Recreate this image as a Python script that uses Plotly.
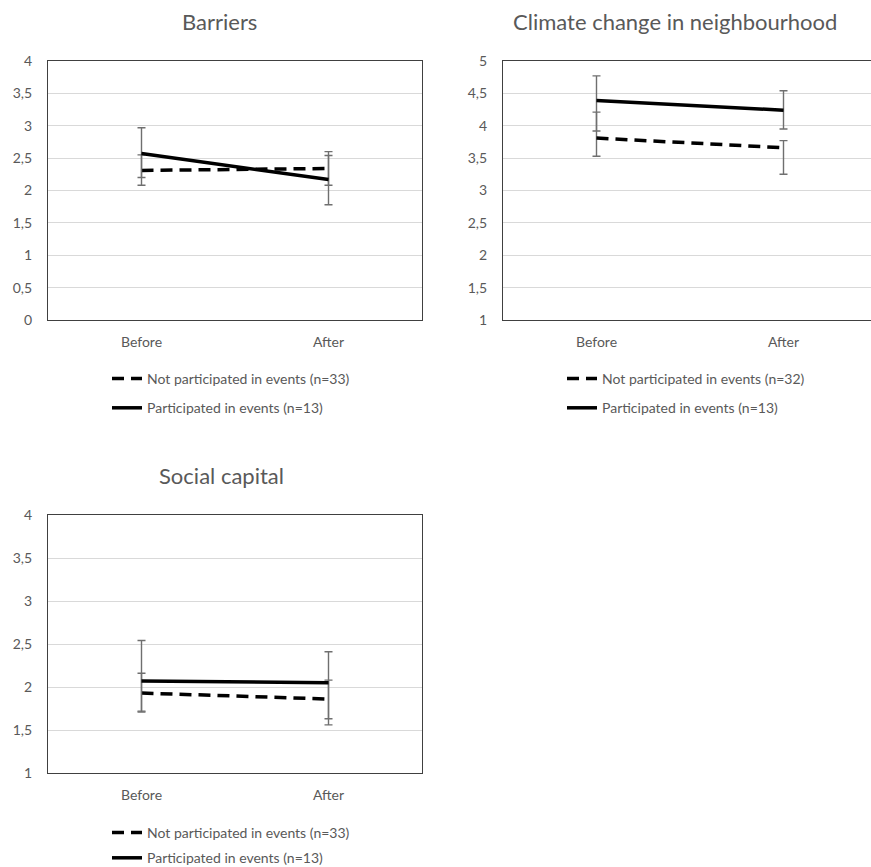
import plotly.graph_objects as go

W, H = 871, 867

categories = ["Before", "After"]

# Barriers
barriers_not = [2.31, 2.34]
barriers_not_hi = [2.55, 2.60]
barriers_not_lo = [2.08, 2.08]
barriers_part = [2.57, 2.17]
barriers_part_hi = [2.97, 2.54]
barriers_part_lo = [2.20, 1.78]

# Climate change in neighbourhood
climate_not = [3.81, 3.66]
climate_not_hi = [4.21, 3.77]
climate_not_lo = [3.53, 3.25]
climate_part = [4.39, 4.24]
climate_part_hi = [4.77, 4.54]
climate_part_lo = [3.92, 3.95]

# Social capital
social_not = [1.93, 1.86]
social_not_hi = [2.16, 2.08]
social_not_lo = [1.71, 1.56]
social_part = [2.07, 2.05]
social_part_hi = [2.54, 2.41]
social_part_lo = [1.72, 1.63]

titles = ["Barriers", "Climate change in neighbourhood", "Social capital"]
names_not = ["Not participated in events (n=33)", "Not participated in events (n=32)",
             "Not participated in events (n=33)"]
names_part = ["Participated in events (n=13)", "Participated in events (n=13)",
              "Participated in events (n=13)"]

FONT = "Lato, 'Noto Sans', sans-serif"
GREY = "#595959"

panels = [
    (barriers_not, barriers_not_hi, barriers_not_lo, barriers_part, barriers_part_hi, barriers_part_lo),
    (climate_not, climate_not_hi, climate_not_lo, climate_part, climate_part_hi, climate_part_lo),
    (social_not, social_not_hi, social_not_lo, social_part, social_part_hi, social_part_lo),
]

# layout in pixels: (left, right, top, bottom)
boxes = [(48, 422, 61, 320), (503, 877, 61, 320), (48, 422, 515, 773)]
yranges = [(0, 4), (1, 5), (1, 4)]
title_pos = [(220, 21), (675, 21), (221, 475)]
legend_pos = [(107, 363), (562, 363), (107, 817)]
legend_gaps = [8, 8, 4]

fig = go.Figure()
legend_names = ["legend", "legend2", "legend3"]

for i, (yn, yn_hi, yn_lo, yp, yp_hi, yp_lo) in enumerate(panels):
    xa = "x" if i == 0 else f"x{i+1}"
    ya = "y" if i == 0 else f"y{i+1}"
    lg = legend_names[i]
    fig.add_trace(go.Scatter(
        x=categories, y=yn, mode="lines", name=names_not[i],
        line=dict(color="black", width=3.5, dash="12px,7px"),
        error_y=dict(type="data", symmetric=False,
                     array=[h - v for h, v in zip(yn_hi, yn)],
                     arrayminus=[v - l for l, v in zip(yn_lo, yn)],
                     color="#6f6f6f", thickness=1.4, width=4),
        xaxis=xa, yaxis=ya, legend=lg, legendgroup=f"n{i}",
    ))
    fig.add_trace(go.Scatter(
        x=categories, y=yp, mode="lines", name=names_part[i],
        line=dict(color="black", width=3.5),
        error_y=dict(type="data", symmetric=False,
                     array=[h - v for h, v in zip(yp_hi, yp)],
                     arrayminus=[v - l for l, v in zip(yp_lo, yp)],
                     color="#6f6f6f", thickness=1.4, width=4),
        xaxis=xa, yaxis=ya, legend=lg, legendgroup=f"p{i}",
    ))

layout = dict(
    width=W, height=H, margin=dict(l=0, r=0, t=0, b=0, autoexpand=False),
    paper_bgcolor="white", plot_bgcolor="white",
    separators=", ", showlegend=True,
    font=dict(family=FONT, color=GREY, size=14),
)

for i, (l, r, t, b) in enumerate(boxes):
    sfx = "" if i == 0 else str(i + 1)
    x0, x1 = l / W, min(r, W) / W
    y0, y1 = 1 - b / H, 1 - t / H
    # category positions at 1/4 and 3/4 of full (unclipped) width
    unit = (r - l) / 2.0
    xmax = -0.5 + (min(r, W) - l) / unit
    layout["xaxis" + sfx] = dict(
        domain=[x0, x1], anchor="y" + sfx, type="category",
        range=[-0.5, xmax], showgrid=False, zeroline=False,
        showline=True, linecolor="#404040", linewidth=1.3, mirror=True,
        ticks="", ticklabelstandoff=9,
        tickfont=dict(family=FONT, color=GREY, size=14),
    )
    layout["yaxis" + sfx] = dict(
        domain=[y0, y1], anchor="x" + sfx, range=list(yranges[i]), dtick=0.5,
        tick0=0, showgrid=True, gridcolor="#d9d9d9", gridwidth=1,
        zeroline=False, showline=True, linecolor="#404040", linewidth=1.3,
        mirror=(i != 1), ticks="", ticklabelstandoff=12,
        tickfont=dict(family=FONT, color=GREY, size=14),
    )
    lx, ly = legend_pos[i]
    layout[legend_names[i]] = dict(
        x=lx / W, y=1 - ly / H, xanchor="left", yanchor="top",
        bgcolor="rgba(0,0,0,0)", tracegroupgap=legend_gaps[i], traceorder="grouped",
        font=dict(family=FONT, color=GREY, size=14), itemwidth=30,
    )

annotations = []
for (tx, ty), title in zip(title_pos, titles):
    annotations.append(dict(
        x=tx / W, y=1 - ty / H, xref="paper", yref="paper", text=title,
        showarrow=False, xanchor="center", yanchor="middle",
        font=dict(family=FONT, color=GREY, size=22),
    ))
layout["annotations"] = annotations

fig.update_layout(**layout)
fig.write_html("out.html")
